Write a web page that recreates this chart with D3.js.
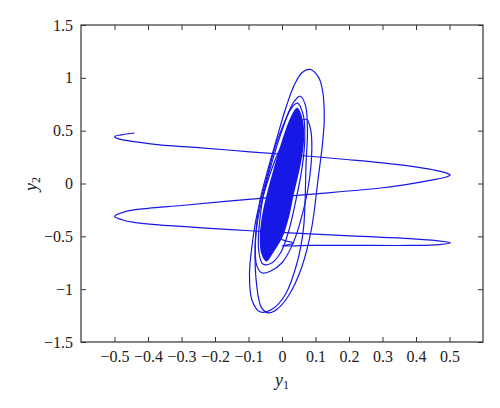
<!DOCTYPE html>
<html>
  <head>
    <meta charset="UTF-8" />
    <script src="https://cdnjs.cloudflare.com/ajax/libs/d3/7.8.5/d3.min.js"></script>
    <style>
      body { margin: 0; background: #fff; }
      text { font-family: "Liberation Serif", "DejaVu Serif", serif; fill: #222; }
      .frame { fill: none; stroke: #333; stroke-width: 1.2; }
      .tick line { stroke: #333; }
      path.domain { stroke: none; }
    </style>
  </head>
  <body>
    <svg id="chart" width="500" height="408"></svg>
    <script>
      // tick values and labels
      const xTicks = [-0.5, -0.4, -0.3, -0.2, -0.1, 0, 0.1, 0.2, 0.3, 0.4, 0.5];
      const xTickLabels = ["\u22120.5", "\u22120.4", "\u22120.3", "\u22120.2", "\u22120.1", "0", "0.1", "0.2", "0.3", "0.4", "0.5"];
      const yTicks = [-1.5, -1, -0.5, 0, 0.5, 1, 1.5];
      const yTickLabels = ["\u22121.5", "\u22121", "\u22120.5", "0", "0.5", "1", "1.5"];

      // trajectory pieces, [y1, y2]
      const sweep = [
        [-0.44, 0.478], [-0.48, 0.46], [-0.5, 0.445], [-0.49, 0.425], [-0.465, 0.408],
        [-0.365, 0.366], [-0.25, 0.34], [-0.096, 0.3], [0.054, 0.265], [0.2, 0.225],
        [0.3, 0.195], [0.383, 0.164], [0.45, 0.13], [0.49, 0.1], [0.502, 0.08],
        [0.49, 0.062], [0.45, 0.035], [0.383, -0.003], [0.3, -0.04], [0.1, -0.098],
        [-0.1, -0.15], [-0.3, -0.208], [-0.4, -0.235], [-0.465, -0.264], [-0.5, -0.312],
        [-0.475, -0.345], [-0.446, -0.366], [-0.395, -0.385], [-0.096, -0.447], [0.204, -0.496],
        [0.383, -0.522], [0.46, -0.54], [0.503, -0.561], [0.47, -0.578], [0.383, -0.586],
        [0.2, -0.585], [0.08, -0.586], [0.0, -0.59], [0.035, -0.565], [0.0, -0.53], [-0.02, -0.45]
      ];

      const loop1 = [
        [0.084, 1.08], [0.11, 1.0], [0.122, 0.86], [0.126, 0.6], [0.121, 0.38],
        [0.108, 0.05], [0.088, -0.43], [0.058, -0.8], [0.02, -1.06], [-0.015, -1.19],
        [-0.041, -1.224], [-0.062, -1.17], [-0.076, -0.95], [-0.08, -0.6], [-0.068, -0.2],
        [-0.045, 0.1], [-0.018, 0.4], [0.01, 0.7], [0.035, 0.92], [0.06, 1.05]
      ];
      const loop2 = [
        [0.054, 0.826], [0.07, 0.74], [0.076, 0.5], [0.072, 0.2], [0.064, -0.43],
        [0.045, -0.75], [0.01, -1.05], [-0.03, -1.19], [-0.066, -1.214], [-0.09, -1.1],
        [-0.097, -0.86], [-0.09, -0.6], [-0.075, -0.3], [-0.05, 0.0], [-0.02, 0.35],
        [0.01, 0.6], [0.035, 0.77]
      ];
      const loop3 = [
        [0.074, 0.605], [0.086, 0.5], [0.089, 0.32], [0.08, 0.0], [0.06, -0.3],
        [0.035, -0.55], [0.0, -0.75], [-0.035, -0.83], [-0.061, -0.845], [-0.075, -0.78],
        [-0.08, -0.6], [-0.07, -0.3], [-0.045, 0.0], [-0.01, 0.3], [0.025, 0.5],
        [0.05, 0.585]
      ];
      const loop4 = [
        [0.046, 0.76], [0.064, 0.64], [0.068, 0.42], [0.06, 0.15], [0.042, -0.15],
        [0.02, -0.45], [-0.005, -0.66], [-0.035, -0.76], [-0.058, -0.76], [-0.07, -0.62],
        [-0.068, -0.4], [-0.055, -0.1], [-0.03, 0.2], [0.0, 0.5], [0.025, 0.7]
      ];
      // outline of the dense band of windings
      const core = [
        [0.045, 0.71], [0.06, 0.6], [0.064, 0.45], [0.06, 0.3], [0.048, 0.1],
        [0.033, -0.1], [0.02, -0.3], [0.0, -0.5], [-0.03, -0.66], [-0.046, -0.73],
        [-0.06, -0.66], [-0.064, -0.5], [-0.057, -0.3], [-0.043, -0.1], [-0.026, 0.1],
        [-0.008, 0.3], [0.012, 0.5], [0.027, 0.62]
      ];

      const svg = d3.select("#chart");
      const mLeft = 81, mRight = 483, mTop = 25, mBottom = 342;
      const blue = "#1818e6";

      const x = d3.scaleLinear().domain([-0.6, 0.6]).range([mLeft, mRight]);
      const y = d3.scaleLinear().domain([-1.5, 1.5]).range([mBottom, mTop]);

      svg.append("clipPath").attr("id", "plot")
        .append("rect").attr("x", mLeft).attr("y", mTop)
        .attr("width", mRight - mLeft).attr("height", mBottom - mTop);

      const g = svg.append("g").attr("clip-path", "url(#plot)");

      const open = d3.line().x(d => x(d[0])).y(d => y(d[1])).curve(d3.curveCatmullRom.alpha(0.5));
      const closed = d3.line().x(d => x(d[0])).y(d => y(d[1])).curve(d3.curveCatmullRomClosed.alpha(0.5));

      g.append("path").attr("d", closed(core))
        .attr("fill", blue).attr("stroke", blue).attr("stroke-width", 1.5);

      [loop1, loop2, loop3, loop4].forEach(l => {
        g.append("path").attr("d", closed(l))
          .attr("fill", "none").attr("stroke", blue).attr("stroke-width", 1.2);
      });

      g.append("path").attr("d", open(sweep))
        .attr("fill", "none").attr("stroke", blue).attr("stroke-width", 1.2);

      // axes, ticks pointing inward on all four sides
      const fmtX = (d, i) => xTickLabels[i];
      const fmtY = (d, i) => yTickLabels[i];

      svg.append("g").attr("transform", `translate(0,${mBottom})`)
        .call(d3.axisBottom(x).tickValues(xTicks).tickFormat(fmtX).tickSizeInner(-5).tickSizeOuter(0).tickPadding(9))
        .call(a => a.selectAll("text").style("font-size", "16px"));
      svg.append("g").attr("transform", `translate(0,${mTop})`)
        .call(d3.axisTop(x).tickValues(xTicks).tickFormat("").tickSizeInner(-5).tickSizeOuter(0));
      svg.append("g").attr("transform", `translate(${mLeft},0)`)
        .call(d3.axisLeft(y).tickValues(yTicks).tickFormat(fmtY).tickSizeInner(-5).tickSizeOuter(0).tickPadding(8))
        .call(a => a.selectAll("text").style("font-size", "16px"));
      svg.append("g").attr("transform", `translate(${mRight},0)`)
        .call(d3.axisRight(y).tickValues(yTicks).tickFormat("").tickSizeInner(-5).tickSizeOuter(0));

      svg.selectAll(".tick text").attr("font-family", "Liberation Serif").attr("fill", "#222");

      svg.append("rect").attr("class", "frame")
        .attr("x", mLeft).attr("y", mTop).attr("width", mRight - mLeft).attr("height", mBottom - mTop);

      // axis titles
      const xl = svg.append("text").attr("x", 282).attr("y", 386)
        .attr("text-anchor", "middle").style("font-size", "18px");
      xl.append("tspan").style("font-style", "italic").text("y");
      xl.append("tspan").attr("dy", 3).style("font-size", "12px").text("1");

      const yl = svg.append("text").attr("transform", "translate(37,184) rotate(-90)")
        .attr("text-anchor", "middle").style("font-size", "18px");
      yl.append("tspan").style("font-style", "italic").text("y");
      yl.append("tspan").attr("dy", 3).style("font-size", "12px").text("2");
    </script>
  </body>
</html>
